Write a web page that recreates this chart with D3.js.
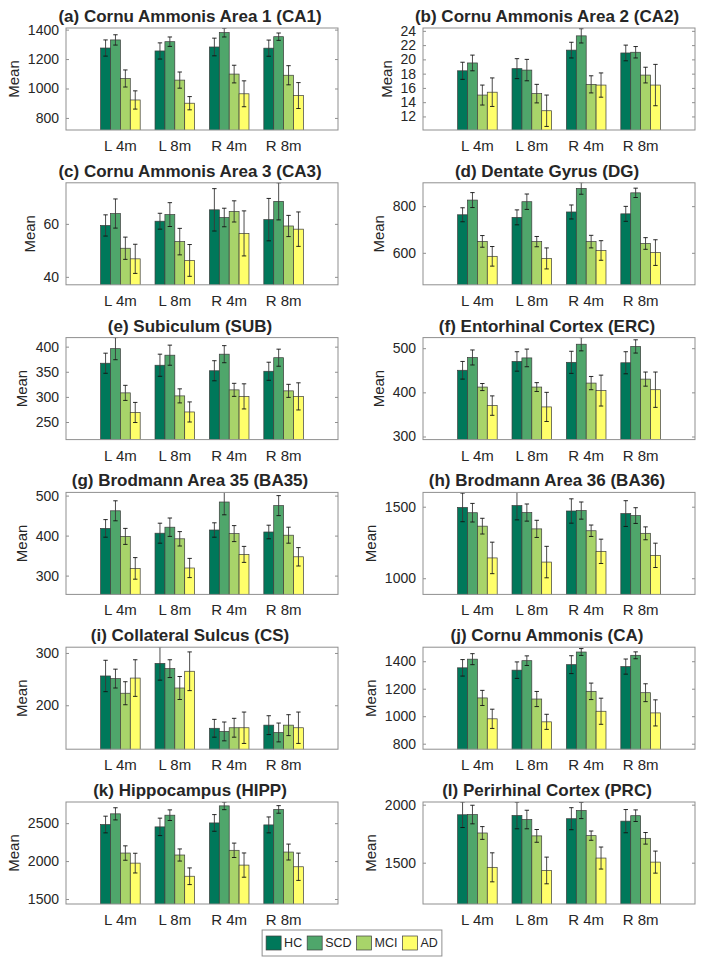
<!DOCTYPE html>
<html><head><meta charset="utf-8">
<script src="https://cdn.jsdelivr.net/npm/d3@7"></script>
<style>
body{margin:0;background:#fff}
svg{display:block}
text{font-family:"Liberation Sans",Arial,Helvetica,sans-serif;fill:#262626}
</style>
</head><body>
<svg id="c" width="704" height="965"></svg>
<script>
// ---------------- data ----------------
const groups = ["L 4m", "L 8m", "R 4m", "R 8m"];
const series = ["HC", "SCD", "MCI", "AD"];
const colors = ["#00785A", "#4FA66B", "#A8D46A", "#FFFF6A"];

const titles = [
  "(a) Cornu Ammonis Area 1 (CA1)", "(b) Cornu Ammonis Area 2 (CA2)",
  "(c) Cornu Ammonis Area 3 (CA3)", "(d) Dentate Gyrus (DG)",
  "(e) Subiculum (SUB)", "(f) Entorhinal Cortex (ERC)",
  "(g) Brodmann Area 35 (BA35)", "(h) Brodmann Area 36 (BA36)",
  "(i) Collateral Sulcus (CS)", "(j) Cornu Ammonis (CA)",
  "(k) Hippocampus (HIPP)", "(l) Perirhinal Cortex (PRC)"
];

const yDomains = [
  [718, 1411], [10.1, 24.4], [37, 75.5], [463, 900],
  [215, 418], [293, 524], [253, 508], [887, 1600],
  [116, 311], [760, 1502], [1434, 2779], [1144, 2023]
];

const yTicks = [
  [800, 1000, 1200, 1400], [12, 14, 16, 18, 20, 22, 24], [40, 60], [600, 800],
  [250, 300, 350, 400], [300, 400, 500], [300, 400, 500], [1000, 1500],
  [200, 300], [800, 1000, 1200, 1400], [1500, 2000, 2500], [1500, 2000]
];

// means: one row per group (L 4m, L 8m, R 4m, R 8m), columns HC, SCD, MCI, AD
const meanCA1  = [[1275, 1330, 1068, 922], [1255, 1318, 1057, 900], [1282, 1380, 1098, 964], [1274, 1352, 1090, 952]];
const errCA1   = [[55, 35, 58, 62], [55, 32, 55, 45], [60, 30, 60, 88], [55, 25, 65, 88]];
const meanCA2  = [[18.4, 19.5, 15.0, 15.4], [18.7, 18.5, 15.2, 12.8], [21.3, 23.3, 16.5, 16.4], [20.9, 21.0, 17.8, 16.4]];
const errCA2   = [[1.2, 1.1, 1.4, 2.0], [1.4, 1.5, 1.3, 2.2], [1.1, 1.0, 1.2, 1.7], [1.1, 0.8, 1.1, 2.9]];
const meanCA3  = [[59.4, 63.9, 50.8, 46.8], [61.0, 63.5, 53.3, 46.2], [65.3, 62.4, 64.7, 56.4], [61.6, 68.5, 59.2, 58.0]];
const errCA3   = [[4.0, 5.5, 4.2, 5.5], [3.0, 4.5, 5.0, 6.0], [8.0, 3.5, 4.0, 8.5], [8.0, 7.0, 4.0, 6.5]];
const meanDG   = [[763, 826, 649, 585], [752, 819, 648, 576], [775, 876, 648, 610], [767, 857, 640, 601]];
const errDG    = [[30, 32, 25, 42], [32, 33, 22, 45], [30, 25, 27, 42], [32, 20, 25, 55]];
const meanSUB  = [[367, 396, 308, 269], [363, 383, 302, 270], [352, 385, 314, 301], [351, 378, 312, 301]];
const errSUB   = [[20, 22, 15, 20], [22, 20, 14, 20], [20, 17, 13, 25], [18, 17, 13, 27]];
const meanERC  = [[450, 479, 412, 370], [470, 478, 412, 367], [468, 509, 421, 404], [467, 504, 430, 406]];
const errERC   = [[20, 17, 8, 22], [22, 20, 10, 33], [25, 15, 15, 35], [25, 15, 16, 40]];
const meanBA35 = [[418, 462, 398, 318], [406, 421, 392, 319], [414, 484, 405, 353], [409, 475, 401, 347]];
const errBA35  = [[22, 25, 20, 27], [25, 23, 18, 24], [18, 32, 20, 20], [17, 25, 20, 23]];
const meanBA36 = [[1495, 1458, 1364, 1142], [1508, 1459, 1345, 1113], [1470, 1473, 1332, 1188], [1452, 1438, 1314, 1160]];
const errBA36  = [[100, 65, 55, 110], [100, 60, 60, 110], [85, 60, 40, 85], [90, 55, 45, 85]];
const meanCS   = [[256, 251, 223, 252], [280, 270, 233, 265], [156, 150, 157, 157], [162, 148, 162, 157]];
const errCS    = [[30, 18, 22, 35], [32, 17, 22, 37], [17, 18, 18, 30], [18, 18, 20, 30]];
const meanCA   = [[1352, 1415, 1133, 981], [1335, 1404, 1125, 959], [1375, 1467, 1181, 1036], [1361, 1443, 1171, 1024]];
const errCA    = [[60, 40, 55, 70], [60, 35, 55, 55], [65, 25, 60, 95], [55, 25, 65, 95]];
const meanHIPP = [[2482, 2623, 2106, 1973], [2451, 2605, 2080, 1800], [2503, 2728, 2142, 1947], [2477, 2681, 2119, 1925]];
const errHIPP  = [[110, 80, 95, 130], [115, 70, 80, 110], [110, 50, 95, 160], [105, 50, 105, 180]];
const meanPRC  = [[1913, 1915, 1756, 1460], [1907, 1872, 1731, 1433], [1879, 1950, 1733, 1540], [1858, 1905, 1710, 1505]];
const errPRC   = [[110, 80, 55, 125], [115, 80, 55, 115], [95, 70, 40, 95], [100, 50, 50, 95]];

const means = [meanCA1, meanCA2, meanCA3, meanDG, meanSUB, meanERC, meanBA35, meanBA36, meanCS, meanCA, meanHIPP, meanPRC];
const errs  = [errCA1, errCA2, errCA3, errDG, errSUB, errERC, errBA35, errBA36, errCS, errCA, errHIPP, errPRC];

// ---------------- layout ----------------
const svg = d3.select("#c");
const boxW = 272, boxH = 102;
const colLeft = [66, 423];
const rowTop0 = 28, rowStep = 154.8;
const boxColor = "#8f8f8f";
const fmt = d3.format("");

titles.forEach((title, p) => {
  const col = p % 2, row = Math.floor(p / 2);
  const L = colLeft[col], T = rowTop0 + row * rowStep;
  const x = d3.scaleLinear().domain([0, 5]).range([L, L + boxW]);
  const y = d3.scaleLinear().domain(yDomains[p]).range([T + boxH, T]);
  const unit = x(1) - x(0);
  const inner = d3.scaleBand().domain(series).range([-0.3636 * unit, 0.3636 * unit]).paddingInner(0);

  const g = svg.append("g");
  const clipId = "clip" + p;
  g.append("clipPath").attr("id", clipId).append("rect")
    .attr("x", L).attr("y", T).attr("width", boxW).attr("height", boxH);

  // y axes ticks (inside) left and right
  const ax = g.append("g").attr("transform", `translate(${L},0)`)
    .call(d3.axisLeft(y).tickValues(yTicks[p]).tickFormat(fmt).tickSize(-3).tickPadding(7));
  ax.select(".domain").remove();
  ax.selectAll("line").attr("stroke", boxColor);
  ax.selectAll("text").style("font-size", "14px").attr("fill", "#262626");
  const axR = g.append("g").attr("transform", `translate(${L + boxW},0)`)
    .call(d3.axisRight(y).tickValues(yTicks[p]).tickSize(-3).tickFormat(""));
  axR.select(".domain").remove();
  axR.selectAll("line").attr("stroke", boxColor);

  // measure tick label width for y label placement
  let maxW = 0;
  ax.selectAll("text").each(function () { maxW = Math.max(maxW, this.getComputedTextLength()); });

  const plot = g.append("g").attr("clip-path", `url(#${clipId})`);
  const data = [];
  groups.forEach((gr, gi) => series.forEach((s, si) => {
    data.push({ gi, si, s, m: means[p][gi][si], e: errs[p][gi][si] });
  }));
  plot.selectAll("rect.bar").data(data).enter().append("rect")
    .attr("class", "bar")
    .attr("x", d => x(d.gi + 1) + inner(d.s))
    .attr("width", inner.bandwidth())
    .attr("y", d => y(d.m))
    .attr("height", d => y(yDomains[p][0]) - y(d.m) + 2)
    .attr("fill", d => colors[d.si])
    .attr("stroke", "#3c3c3c").attr("stroke-width", 0.7);

  const eb = plot.selectAll("g.eb").data(data).enter().append("g");
  const cx = d => x(d.gi + 1) + inner(d.s) + inner.bandwidth() / 2;
  eb.append("line").attr("x1", cx).attr("x2", cx)
    .attr("y1", d => y(d.m - d.e)).attr("y2", d => y(d.m + d.e))
    .attr("stroke", "#3a3a3a").attr("stroke-width", 0.9);
  [-1, 1].forEach(sg => {
    eb.append("line").attr("x1", d => cx(d) - 2.2).attr("x2", d => cx(d) + 2.2)
      .attr("y1", d => y(d.m + sg * d.e)).attr("y2", d => y(d.m + sg * d.e))
      .attr("stroke", "#111").attr("stroke-width", 0.9);
  });

  // box
  g.append("rect").attr("x", L).attr("y", T).attr("width", boxW).attr("height", boxH)
    .attr("fill", "none").attr("stroke", boxColor).attr("stroke-width", 1);

  // x labels
  g.selectAll("text.xl").data(groups).enter().append("text")
    .attr("x", (d, i) => x(i + 1)).attr("y", T + boxH + 21)
    .attr("text-anchor", "middle").style("font-size", "15px").text(d => d);

  // y label
  const ylx = L - 7 - maxW - 14;
  g.append("text").attr("transform", `translate(${ylx},${T + boxH / 2}) rotate(-90)`)
    .attr("text-anchor", "middle").attr("dy", "0.35em").style("font-size", "15px").text("Mean");

  // title
  g.append("text").attr("x", L + 124).attr("y", T - 6).attr("text-anchor", "middle")
    .style("font-size", "17px").style("font-weight", "bold").attr("fill", "#000").text(title);
});

// ---------------- legend ----------------
const lg = svg.append("g");
const lgY = 930, lgH = 26, swW = 15, swH = 14, pad = 4;
let cxL = 267 + pad;
series.forEach((s, i) => {
  lg.append("rect").attr("x", cxL).attr("y", lgY + (lgH - swH) / 2).attr("width", swW).attr("height", swH)
    .attr("fill", colors[i]).attr("stroke", "#3c3c3c").attr("stroke-width", 0.7);
  const t = lg.append("text").attr("x", cxL + swW + 3).attr("y", lgY + lgH / 2).attr("dy", "0.35em")
    .style("font-size", "12.5px").attr("fill", "#000").text(s);
  cxL += swW + 3 + t.node().getComputedTextLength() + 5;
});
const lgW = cxL - 267 - 5 + pad;
lg.attr("transform", `translate(${352 - lgW / 2 - 267},0)`);
lg.insert("rect", ":first-child").attr("x", 267).attr("y", lgY).attr("width", lgW).attr("height", lgH)
  .attr("fill", "#fff").attr("stroke", "#8f8f8f").attr("stroke-width", 1);
</script>
</body></html>
